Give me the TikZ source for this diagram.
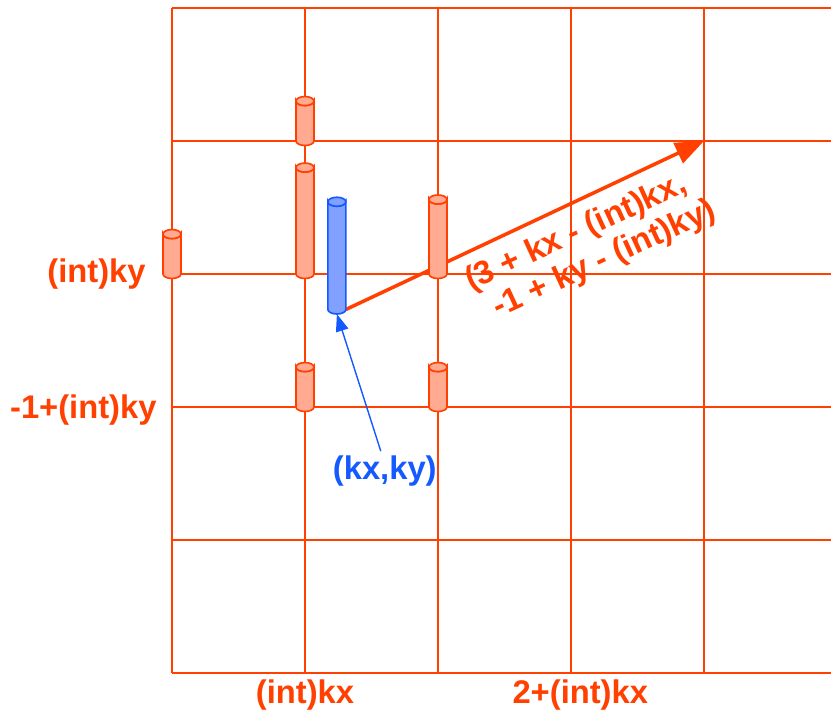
\documentclass[tikz,border=0pt]{standalone}
\usepackage{fontspec}
\setmainfont{Liberation Sans}
\definecolor{gridred}{RGB}{255,64,0}
\definecolor{rodfill}{RGB}{255,170,145}
\definecolor{sampleblue}{RGB}{20,90,255}
\definecolor{samplefill}{RGB}{130,160,255}
\usetikzlibrary{arrows.meta,positioning,calc,backgrounds}
% #1 name, #2 x, #3 base y, #4 height, #5 style
\newcommand{\rod}[5]{%
  \filldraw[#5] (#2-0.0675,#3) -- (#2-0.0675,#3+#4)
    arc[start angle=180, end angle=360, x radius=0.0675, y radius=0.034]
    -- (#2+0.0675,#3)
    arc[start angle=0, end angle=-180, x radius=0.0675, y radius=0.034] -- cycle;
  \filldraw[#5] (#2,#3+#4) ellipse[x radius=0.0675, y radius=0.034];
  \coordinate (#1) at (#2,#3-0.034);
  \coordinate (#1-corner) at (#2+0.0675,#3);
}

\begin{document}
\begin{tikzpicture}[x=2cm, y=2cm,
    cell/.style={draw=gridred, line width=0.9pt},
    rodstyle/.style={draw=gridred, fill=rodfill, line width=0.7pt},
    samplestyle/.style={draw=sampleblue, fill=samplefill, line width=0.7pt},
    axislabel/.style={font=\fontsize{14}{17}\selectfont\bfseries, text=gridred, inner sep=0pt},
    offset/.style={-{Triangle[length=4.3mm, width=3.3mm]}, line width=1.5pt, draw=gridred},
    pointer/.style={-{Triangle[length=2.6mm, width=1.9mm]}, line width=0.6pt, draw=sampleblue},
  ]
  \useasboundingbox (-1.293,-0.301) rectangle (4.955,5.060);

  % Neighbouring samples
  \rod{upper}{1}{4}{0.30}{rodstyle}
  \rod{tall}{1}{3}{0.80}{rodstyle}
  \rod{leftrod}{0}{3}{0.30}{rodstyle}
  \rod{rightrod}{2}{3}{0.56}{rodstyle}
  \rod{lowleft}{1}{2}{0.30}{rodstyle}
  \rod{lowright}{2}{2}{0.30}{rodstyle}
  % Sample point
  \rod{sample}{1.24}{2.733}{0.81}{samplestyle}

  % Grid
  \begin{scope}[on background layer]
    \foreach \x in {0,...,4}
      \draw[cell] (\x,0) -- (\x,5);
    \foreach \y in {0,...,5}
      \draw[cell] (0,\y) -- (4.955,\y);
    \coordinate (target) at (4,4);
    \draw[offset] (sample-corner) -- (target);
  \end{scope}

  % Labels
  \node[axislabel, anchor=east] (lblky) at (-0.195,3.0) {(int)ky};
  \node[axislabel, anchor=east] (lblkyminus) at (-0.113,1.98) {-1+(int)ky};
  \node[axislabel] (lblkx) at (1.0,-0.165) {(int)kx};
  \node[axislabel] (lblkxplus) at (3.07,-0.165) {2+(int)kx};
  \node[axislabel, rotate=24.7, align=left,
    font=\fontsize{14}{15.5}\selectfont\bfseries] (lbloffset) at (3.15,3.207)
    {(3 + kx - (int)kx,\\\hspace*{0.43em}-1 + ky - (int)ky)};
  \node[axislabel, text=sampleblue] (lblsample) at (1.60,1.52) {(kx,ky)};

  \draw[pointer] (lblsample.north) ++(-0.03,0.03) coordinate (ptstart)
    (ptstart) -- (sample);
\end{tikzpicture}
\end{document}
